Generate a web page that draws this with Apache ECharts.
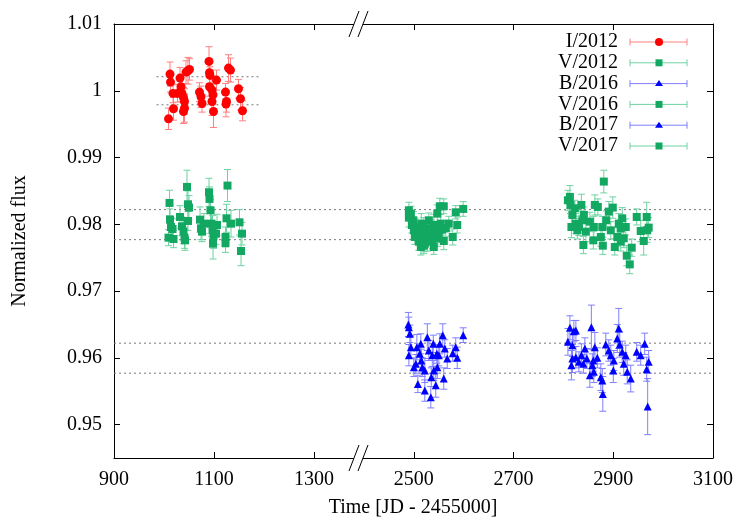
<!DOCTYPE html>
<html>
<head>
<meta charset="utf-8">
<script src="https://cdn.jsdelivr.net/npm/echarts@6/dist/echarts.min.js"></script>
<style>
html, body { margin: 0; padding: 0; background: #fff; }
#chart { width: 750px; height: 525px; }
</style>
</head>
<body>
<div id="chart"></div>
<script>
// ---- data (time = JD - 2455000, normalized flux, error) ----
var i2012Time = [1009,1012,1013,1018,1019,1027,1032,1034,1036,1039,1041,1041,1039,1044,1048,1051,1071,1074,1076,1090,1091,1092,1091,1096,1098,1096,1099,1105,1123,1125,1124,1129,1133,1149,1153,1157];
var i2012Flux = [0.9958,1.0025,1.0013,0.9996,0.9973,0.9996,1.0019,1.0006,0.9996,0.9990,0.9984,0.9974,0.9969,1.0028,1.0030,1.0032,0.9998,0.9991,0.9981,1.0044,1.0027,1.0023,1.0006,1.0001,0.9994,0.9984,0.9969,1.0016,0.9998,0.9984,0.9980,1.0034,1.0031,1.0003,0.9988,0.9970];
var i2012Err  = [0.0016,0.0018,0.0015,0.0014,0.0017,0.0013,0.0016,0.0014,0.0012,0.0015,0.0019,0.0021,0.0018,0.0017,0.0020,0.0016,0.0014,0.0016,0.0013,0.0022,0.0016,0.0013,0.0014,0.0018,0.0015,0.0021,0.0024,0.0015,0.0013,0.0016,0.0019,0.0020,0.0018,0.0014,0.0017,0.0015];

var v2012Time = [1011,1012,1014,1009,1017,1019,1032,1036,1039,1041,1042,1046,1048,1050,1048,1072,1074,1076,1090,1091,1093,1095,1097,1099,1098,1104,1123,1123,1125,1127,1134,1151,1156,1154,1106,1080];
var v2012Flux = [0.9832,0.9807,0.9796,0.9780,0.9793,0.9778,0.9811,0.9797,0.9789,0.9780,0.9776,0.9856,0.9830,0.9825,0.9805,0.9807,0.9794,0.9789,0.9848,0.9838,0.9821,0.9801,0.9791,0.9782,0.9771,0.9786,0.9781,0.9772,0.9809,0.9858,0.9801,0.9803,0.9786,0.9760,0.9799,0.9801];
var v2012Err  = [0.0019,0.0016,0.0014,0.0012,0.0015,0.0013,0.0017,0.0014,0.0018,0.0016,0.0015,0.0025,0.0020,0.0018,0.0014,0.0019,0.0017,0.0015,0.0021,0.0018,0.0016,0.0019,0.0022,0.0018,0.0023,0.0016,0.0015,0.0014,0.0021,0.0024,0.0020,0.0019,0.0017,0.0022,0.0016,0.0015];

var b2016Time = [2489,2490,2492,2494,2490,2504,2506,2508,2512,2515,2517,2522,2522,2527,2530,2534,2535,2537,2539,2540,2544,2546,2550,2552,2558,2560,2562,2567,2578,2584,2587,2599,2514,2547,2500];
var b2016Flux = [0.9650,0.9646,0.9636,0.9616,0.9604,0.9591,0.9616,0.9561,0.9606,0.9596,0.9586,0.9551,0.9581,0.9631,0.9611,0.9541,0.9571,0.9604,0.9621,0.9581,0.9559,0.9606,0.9604,0.9621,0.9634,0.9569,0.9614,0.9599,0.9607,0.9616,0.9600,0.9634,0.9621,0.9586,0.9586];
var b2016Err  = [0.0018,0.0015,0.0013,0.0017,0.0016,0.0014,0.0019,0.0013,0.0015,0.0017,0.0014,0.0016,0.0018,0.0020,0.0015,0.0016,0.0014,0.0017,0.0013,0.0015,0.0018,0.0014,0.0016,0.0015,0.0017,0.0016,0.0013,0.0015,0.0012,0.0014,0.0016,0.0011,0.0015,0.0017,0.0014];

var v2016Time = [2490,2490,2494,2499,2504,2507,2510,2515,2517,2522,2524,2530,2534,2537,2540,2544,2547,2552,2560,2554,2564,2560,2570,2578,2584,2587,2599,2500,2514,2527,2540,2550,2496,2502,2509,2513,2519,2526,2532,2536,2542,2548,2556,2520];
var v2016Flux = [0.9821,0.9810,0.9816,0.9806,0.9796,0.9786,0.9774,0.9801,0.9786,0.9771,0.9781,0.9806,0.9794,0.9776,0.9799,0.9784,0.9816,0.9827,0.9827,0.9801,0.9794,0.9775,0.9801,0.9781,0.9818,0.9799,0.9823,0.9791,0.9766,0.9774,0.9766,0.9786,0.9799,0.9781,0.9791,0.9779,0.9796,0.9788,0.9783,0.9792,0.9789,0.9779,0.9792,0.9768];
var v2016Err  = [0.0012,0.0014,0.0011,0.0013,0.0012,0.0010,0.0013,0.0015,0.0011,0.0012,0.0014,0.0011,0.0013,0.0012,0.0016,0.0011,0.0013,0.0012,0.0011,0.0014,0.0012,0.0013,0.0011,0.0012,0.0010,0.0012,0.0011,0.0013,0.0012,0.0014,0.0011,0.0013,0.0012,0.0011,0.0013,0.0012,0.0014,0.0011,0.0012,0.0013,0.0011,0.0012,0.0013,0.0012];

var b2017Time = [2809,2813,2818,2821,2825,2818,2816,2825,2831,2836,2840,2843,2847,2853,2856,2858,2861,2863,2868,2875,2878,2879,2885,2891,2895,2900,2908,2911,2913,2918,2921,2925,2928,2935,2947,2955,2963,2967,2971,2969,2860,2901];
var b2017Flux = [0.9624,0.9645,0.9619,0.9640,0.9641,0.9599,0.9589,0.9601,0.9594,0.9604,0.9591,0.9614,0.9599,0.9574,0.9646,0.9589,0.9579,0.9616,0.9600,0.9571,0.9566,0.9546,0.9620,0.9611,0.9604,0.9581,0.9629,0.9644,0.9620,0.9609,0.9591,0.9604,0.9579,0.9569,0.9609,0.9604,0.9621,0.9583,0.9594,0.9527,0.9596,0.9596];
var b2017Err  = [0.0020,0.0018,0.0017,0.0016,0.0015,0.0021,0.0022,0.0016,0.0015,0.0017,0.0014,0.0016,0.0015,0.0018,0.0033,0.0017,0.0016,0.0022,0.0015,0.0020,0.0018,0.0026,0.0017,0.0016,0.0015,0.0018,0.0021,0.0030,0.0019,0.0016,0.0017,0.0015,0.0018,0.0020,0.0014,0.0015,0.0016,0.0018,0.0017,0.0042,0.0016,0.0015];

var v2017Time = [2809,2813,2814,2818,2816,2823,2825,2828,2836,2838,2841,2845,2840,2853,2861,2860,2863,2869,2875,2878,2879,2881,2886,2891,2895,2899,2903,2908,2911,2915,2918,2921,2925,2927,2933,2937,2947,2955,2961,2967,2968,2971,2915,2831];
var v2017Flux = [0.9836,0.9841,0.9829,0.9814,0.9796,0.9824,0.9801,0.9791,0.9829,0.9806,0.9814,0.9789,0.9769,0.9804,0.9796,0.9776,0.9829,0.9826,0.9781,0.9796,0.9768,0.9864,0.9806,0.9819,0.9791,0.9825,0.9766,0.9781,0.9801,0.9794,0.9809,0.9779,0.9796,0.9753,0.9740,0.9765,0.9811,0.9790,0.9775,0.9811,0.9791,0.9795,0.9774,0.9796];
var v2017Err  = [0.0015,0.0017,0.0013,0.0014,0.0016,0.0012,0.0015,0.0013,0.0016,0.0014,0.0012,0.0015,0.0013,0.0014,0.0016,0.0013,0.0015,0.0012,0.0014,0.0016,0.0013,0.0017,0.0014,0.0015,0.0013,0.0016,0.0012,0.0014,0.0015,0.0013,0.0016,0.0014,0.0012,0.0015,0.0014,0.0013,0.0012,0.0016,0.0021,0.0022,0.0018,0.0015,0.0014,0.0013];

// reference levels (dotted lines)
var iLevels = [1.0021, 0.9979];
var iLevelSpan = [985, 1190];
var vLevels = [0.9822, 0.9777];
var bLevels = [0.9622, 0.9577];

var leftRange = [900, 1400];
var rightRange = [2400, 3100];
var leftTicks = [900, 1100, 1300];
var rightTicks = [2500, 2700, 2900, 3100];
var yTicks = [0.95, 0.96, 0.97, 0.98, 0.99, 1.00, 1.01];

var RED = '#ff0000', RED_BAR = '#ff8080';
var GREEN = '#13a862', GREEN_BAR = '#6fd2a2';
var BLUE = '#0000ff', BLUE_BAR = '#7f7fff';
var FONT = 'Liberation Serif';

function zip(t, f, e) {
    var out = [];
    for (var i = 0; i < t.length; i++) out.push([t[i], f[i], e[i]]);
    return out;
}

function errorBarItem(params, api) {
    var x = api.value(0), y = api.value(1), e = api.value(2);
    var top = api.coord([x, y + e]);
    var bot = api.coord([x, y - e]);
    var cap = 3.5;
    var style = {stroke: api.visual('color'), lineWidth: 1};
    return {
        type: 'group',
        children: [
            {type: 'line', shape: {x1: top[0], y1: top[1], x2: bot[0], y2: bot[1]}, style: style},
            {type: 'line', shape: {x1: top[0] - cap, y1: top[1], x2: top[0] + cap, y2: top[1]}, style: style},
            {type: 'line', shape: {x1: bot[0] - cap, y1: bot[1], x2: bot[0] + cap, y2: bot[1]}, style: style}
        ]
    };
}

function dataset(name, t, f, e, gridIdx, color, barColor, symbol, size) {
    var data = zip(t, f, e);
    return [
        {
            name: name, type: 'custom', xAxisIndex: gridIdx, yAxisIndex: gridIdx,
            renderItem: errorBarItem, encode: {x: 0, y: 1},
            itemStyle: {color: barColor}, data: data, silent: true, z: 3
        },
        {
            name: name, type: 'scatter', xAxisIndex: gridIdx, yAxisIndex: gridIdx,
            symbol: symbol, symbolSize: size, itemStyle: {color: color, opacity: 1},
            data: data, silent: true, z: 4
        }
    ];
}

function levelLine(value, span, gridIdx) {
    return {
        type: 'line', xAxisIndex: gridIdx, yAxisIndex: gridIdx, showSymbol: false, silent: true, z: 2,
        lineStyle: {color: '#777', width: 1, type: [2, 3]},
        data: [[span[0], value], [span[1], value]]
    };
}

var series = [];
iLevels.forEach(function (v) { series.push(levelLine(v, iLevelSpan, 0)); });
vLevels.forEach(function (v) { series.push(levelLine(v, leftRange, 0)); series.push(levelLine(v, rightRange, 1)); });
bLevels.forEach(function (v) { series.push(levelLine(v, leftRange, 0)); series.push(levelLine(v, rightRange, 1)); });
series = series
    .concat(dataset('I/2012', i2012Time, i2012Flux, i2012Err, 0, RED, RED_BAR, 'circle', 9))
    .concat(dataset('V/2012', v2012Time, v2012Flux, v2012Err, 0, GREEN, GREEN_BAR, 'rect', 8))
    .concat(dataset('B/2016', b2016Time, b2016Flux, b2016Err, 1, BLUE, BLUE_BAR, 'triangle', 8))
    .concat(dataset('V/2016', v2016Time, v2016Flux, v2016Err, 1, GREEN, GREEN_BAR, 'rect', 8))
    .concat(dataset('B/2017', b2017Time, b2017Flux, b2017Err, 1, BLUE, BLUE_BAR, 'triangle', 8))
    .concat(dataset('V/2017', v2017Time, v2017Flux, v2017Err, 1, GREEN, GREEN_BAR, 'rect', 8));

// legend drawn by hand (gnuplot style: text, error-bar sample, marker)
var legendItems = [
    {name: 'I/2012', color: RED, bar: RED_BAR, shape: 'circle'},
    {name: 'V/2012', color: GREEN, bar: GREEN_BAR, shape: 'rect'},
    {name: 'B/2016', color: BLUE, bar: BLUE_BAR, shape: 'triangle'},
    {name: 'V/2016', color: GREEN, bar: GREEN_BAR, shape: 'rect'},
    {name: 'B/2017', color: BLUE, bar: BLUE_BAR, shape: 'triangle'},
    {name: 'V/2017', color: GREEN, bar: GREEN_BAR, shape: 'rect'}
];
var graphics = [];
legendItems.forEach(function (it, i) {
    var y = 42 + i * 20.8;
    graphics.push({type: 'text', x: 618, y: y, style: {text: it.name, font: '20px "' + FONT + '"', fill: '#000', align: 'right', verticalAlign: 'middle'}});
    graphics.push({type: 'line', shape: {x1: 630, y1: y, x2: 687, y2: y}, style: {stroke: it.bar, lineWidth: 1}});
    graphics.push({type: 'line', shape: {x1: 630, y1: y - 3.5, x2: 630, y2: y + 3.5}, style: {stroke: it.bar, lineWidth: 1}});
    graphics.push({type: 'line', shape: {x1: 687, y1: y - 3.5, x2: 687, y2: y + 3.5}, style: {stroke: it.bar, lineWidth: 1}});
    if (it.shape === 'circle') {
        graphics.push({type: 'circle', shape: {cx: 659, cy: y, r: 4}, style: {fill: it.color}});
    } else if (it.shape === 'rect') {
        graphics.push({type: 'rect', shape: {x: 655.5, y: y - 3.5, width: 7, height: 7}, style: {fill: it.color}});
    } else {
        graphics.push({type: 'polygon', shape: {points: [[659, y - 3.5], [655, y + 2.5], [663, y + 2.5]]}, style: {fill: it.color}});
    }
});
// axis break marks "//"
[24, 458].forEach(function (y) {
    graphics.push({type: 'polygon', shape: {points: [[349, y + 13], [359, y - 13], [368, y - 13], [358, y + 13]]}, style: {fill: '#fff'}, z: 100});
    graphics.push({type: 'line', shape: {x1: 349, y1: y + 13, x2: 359, y2: y - 13}, style: {stroke: '#000', lineWidth: 1}, z: 101});
    graphics.push({type: 'line', shape: {x1: 358, y1: y + 13, x2: 368, y2: y - 13}, style: {stroke: '#000', lineWidth: 1}, z: 101});
});
graphics.push({type: 'text', x: 413, y: 508, style: {text: 'Time [JD - 2455000]', font: '20px "' + FONT + '"', fill: '#000', align: 'center', verticalAlign: 'middle'}});

var labelStyle = {color: '#000', fontFamily: FONT, fontSize: 20};
var lineStyle = {color: '#000', width: 1};

function xAxisCfg(gridIdx, range, ticks, pos, labels) {
    return {
        type: 'value', gridIndex: gridIdx, min: range[0], max: range[1], position: pos,
        axisLine: {show: true, onZero: false, lineStyle: lineStyle},
        axisTick: {show: true, inside: true, length: 6, customValues: ticks, lineStyle: lineStyle},
        axisLabel: {
            show: labels, customValues: ticks, margin: 12, color: '#000', fontFamily: FONT, fontSize: 20,
            formatter: function (v) { return String(v); }
        },
        splitLine: {show: false}
    };
}

function yAxisCfg(gridIdx, pos, labels) {
    return {
        type: 'value', gridIndex: gridIdx, min: 0.945, max: 1.01, position: pos,
        axisLine: {show: true, onZero: false, lineStyle: lineStyle},
        axisTick: {show: true, inside: true, length: 6, customValues: yTicks, lineStyle: lineStyle},
        axisLabel: {
            show: labels, customValues: yTicks, margin: 12, color: '#000', fontFamily: FONT, fontSize: 20,
            formatter: function (v) { return String(+(+v).toFixed(2)); }
        },
        splitLine: {show: false},
        name: labels ? 'Normalized flux' : '',
        nameLocation: 'middle', nameGap: 84, nameRotate: 90,
        nameTextStyle: labelStyle
    };
}

var chart = echarts.init(document.getElementById('chart'), null, {renderer: 'canvas'});
chart.setOption({
    animation: false,
    backgroundColor: '#fff',
    grid: [
        {left: 114, top: 24, width: 250, height: 434},
        {left: 364, top: 24, width: 349, height: 434}
    ],
    xAxis: [
        xAxisCfg(0, leftRange, leftTicks, 'bottom', true),
        xAxisCfg(1, rightRange, rightTicks, 'bottom', true),
        xAxisCfg(0, leftRange, leftTicks, 'top', false),
        xAxisCfg(1, rightRange, rightTicks, 'top', false)
    ],
    yAxis: [
        yAxisCfg(0, 'left', true),
        yAxisCfg(1, 'right', false)
    ],
    graphic: graphics,
    series: series
});
</script>
</body>
</html>
